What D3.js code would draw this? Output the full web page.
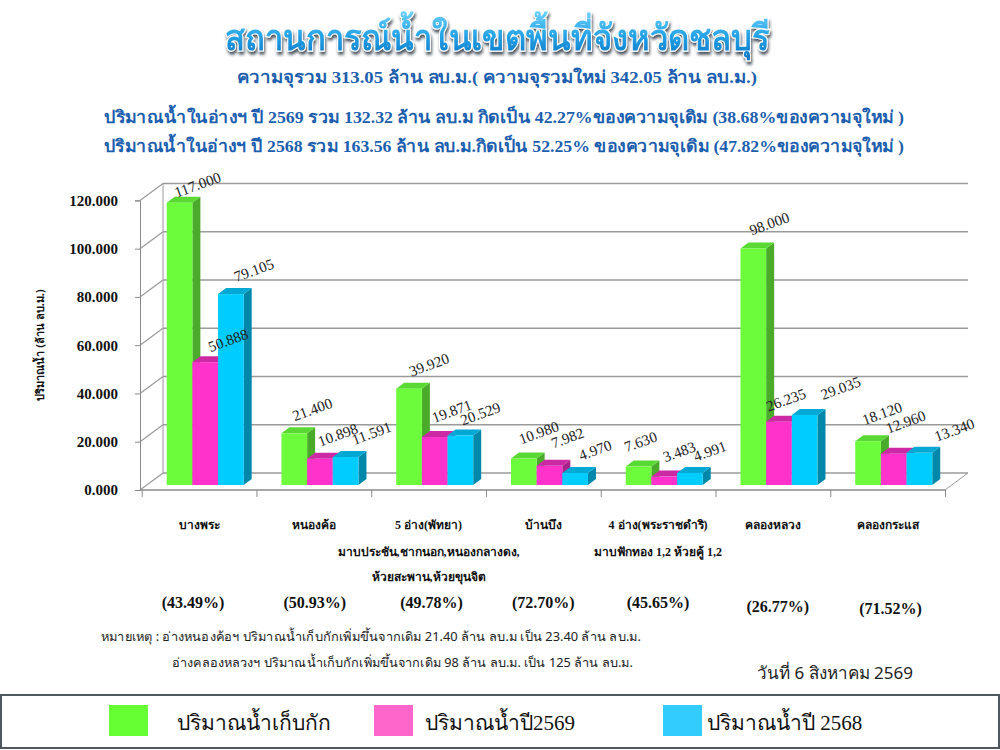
<!DOCTYPE html>
<html>
<head>
<meta charset="utf-8">
<script src="https://cdn.jsdelivr.net/npm/d3@7"></script>
<style>
  body { margin: 0; background: #fff; }
  svg { display: block; }
  .thai-serif { font-family: 'Liberation Serif', 'Noto Sans', serif; }
  .thai-sans { font-family: 'Noto Sans', 'DejaVu Sans', sans-serif; }
</style>
</head>
<body>
<div id="chart"></div>
<script>
// data
let categories = ['บางพระ', 'หนองค้อ', '5 อ่าง(พัทยา)', 'บ้านบึง', '4 อ่าง(พระราชดำริ)', 'คลองหลวง', 'คลองกระแส']
let seriesNames = ['ปริมาณน้ำเก็บกัก', 'ปริมาณน้ำปี2569', 'ปริมาณน้ำปี 2568']
let capacity = [117.0, 21.4, 39.92, 10.98, 7.63, 98.0, 18.12]
let water2569 = [50.888, 10.898, 19.871, 7.982, 3.483, 26.235, 12.96]
let water2568 = [79.105, 11.591, 20.529, 4.97, 4.991, 29.035, 13.34]
let percents = ['(43.49%)', '(50.93%)', '(49.78%)', '(72.70%)', '(45.65%)', '(26.77%)', '(71.52%)']
let subLabels = [[], [], ['มาบประชัน,ชากนอก,หนองกลางดง,', 'ห้วยสะพาน,ห้วยขุนจิต'], [], ['มาบฟักทอง 1,2 ห้วยคู้ 1,2'], [], []]
let yTicks = [0, 20, 40, 60, 80, 100, 120]

let headerLines = [
  'ความจุรวม  313.05 ล้าน ลบ.ม.( ความจุรวมใหม่ 342.05 ล้าน ลบ.ม.)',
  'ปริมาณน้ำในอ่างฯ ปี 2569 รวม 132.32 ล้าน ลบ.ม กิดเป็น 42.27%ของความจุเดิม  (38.68%ของความจุใหม่ )',
  'ปริมาณน้ำในอ่างฯ ปี  2568 รวม 163.56 ล้าน ลบ.ม.กิดเป็น 52.25% ของความจุเดิม (47.82%ของความจุใหม่ )'
]
let notes = [
  'หมายเหตุ :  อ่างหนองค้อฯ ปริมาณน้ำเก็บกักเพิ่มขึ้นจากเดิม 21.40 ล้าน ลบ.ม เป็น 23.40 ล้าน ลบ.ม.',
  'อ่างคลองหลวงฯ ปริมาณน้ำเก็บกักเพิ่มขึ้นจากเดิม 98 ล้าน ลบ.ม. เป็น 125 ล้าน ลบ.ม.'
]

let colors = [
  { front: '#6cfc3c', top: '#5ad834', side: '#4aaa2a', legend: '#66ff33' },
  { front: '#ff33cc', top: '#cc2aa4', side: '#a8228a', legend: '#ff66cc' },
  { front: '#00ccff', top: '#04a8d4', side: '#0088aa', legend: '#33ccff' }
]

// small nudges for value labels, per category x series (layout only)
let labelNudge = [
  [[0, 6], [5, 2], [5, 0]],
  [[0, 0], [0, 0], [8, 0]],
  [[2, 0], [-1, -2], [2, 2]],
  [[-3, -2], [0, -4], [2, 1]],
  [[-16, -1], [-3, -1], [2, 2]],
  [[-2, -1], [-11, 2], [18, -3]],
  [[-4, -4], [-6, -8], [17, 1]]
]

let width = 1000
let height = 750

let svg = d3
  .select('#chart')
  .append('svg')
  .attr('width', width)
  .attr('height', height)

let defs = svg.append('defs')
let grad = defs.append('linearGradient')
  .attr('id', 'titleGrad')
  .attr('x1', 0).attr('y1', 0).attr('x2', 0).attr('y2', 1)
grad.append('stop').attr('offset', '0%').attr('stop-color', '#6fd2fb')
grad.append('stop').attr('offset', '50%').attr('stop-color', '#24a2e6')
grad.append('stop').attr('offset', '100%').attr('stop-color', '#0c73c2')
let shadow = defs.append('filter').attr('id', 'titleShadow')
  .attr('x', '-5%').attr('y', '-20%').attr('width', '110%').attr('height', '160%')
shadow.append('feDropShadow')
  .attr('dx', 1).attr('dy', 3).attr('stdDeviation', 1.6)
  .attr('flood-color', '#0a1a2a')
  .attr('flood-opacity', 0.75)

/* Title and header lines */
svg.append('text')
  .attr('x', 497)
  .attr('y', 50)
  .attr('text-anchor', 'middle')
  .attr('class', 'thai-sans')
  .attr('font-size', 36)
  .attr('font-weight', 'bold')
  .attr('textLength', 545)
  .attr('lengthAdjust', 'spacingAndGlyphs')
  .attr('fill', 'url(#titleGrad)')
  .attr('stroke', '#ffffff')
  .attr('stroke-width', 2.2)
  .attr('paint-order', 'stroke')
  .attr('filter', 'url(#titleShadow)')
  .text('สถานการณ์น้ำในเขตพื้นที่จังหวัดชลบุรี')

let headerPos = [
  { x: 497, y: 83, len: 520 },
  { x: 504, y: 123, len: 800 },
  { x: 504, y: 152, len: 800 }
]
svg.selectAll('.header')
  .data(headerLines)
  .enter()
  .append('text')
  .attr('class', 'header thai-serif')
  .attr('x', (d, i) => headerPos[i].x)
  .attr('y', (d, i) => headerPos[i].y)
  .attr('text-anchor', 'middle')
  .attr('font-size', 17)
  .attr('font-weight', 'bold')
  .attr('fill', '#1d5fae')
  .attr('textLength', (d, i) => headerPos[i].len)
  .attr('lengthAdjust', 'spacingAndGlyphs')
  .text(d => d)

/* Scales */
let depth = { x: 23, y: -17 }
let barDepth = { x: 8, y: -6 }

let xScale = d3
  .scaleBand()
  .domain(categories)
  .range([141.7, 945])

let seriesScale = d3
  .scaleBand()
  .domain([0, 1, 2])
  .range([0, 77])

let yFront = d3.scaleLinear().domain([0, 120]).range([490, 200.4])
let yBack = d3.scaleLinear().domain([0, 120]).range([473, 183.4])
let yBar = d3.scaleLinear().domain([0, 120]).range([485, 195.4])

let x0 = xScale.range()[0] - 1.7
let x1 = xScale.range()[1]

/* Walls and grid */
let grid = svg.append('g').attr('class', 'grid')
grid.selectAll('.hline')
  .data(yTicks)
  .enter()
  .append('line')
  .attr('x1', x0 + depth.x)
  .attr('x2', x1 + depth.x)
  .attr('y1', d => yBack(d))
  .attr('y2', d => yBack(d))
  .attr('stroke', '#9a9a9a')
  .attr('stroke-width', 1.5)
grid.selectAll('.dline')
  .data(yTicks)
  .enter()
  .append('line')
  .attr('x1', x0)
  .attr('x2', x0 + depth.x)
  .attr('y1', d => yFront(d))
  .attr('y2', d => yBack(d))
  .attr('stroke', '#9a9a9a')
  .attr('stroke-width', 1.2)
grid.append('line')
  .attr('x1', x0 + depth.x).attr('x2', x0 + depth.x)
  .attr('y1', yBack(0)).attr('y2', yBack(120))
  .attr('stroke', '#9a9a9a')
grid.append('line')
  .attr('x1', x1).attr('x2', x1 + depth.x)
  .attr('y1', yFront(0)).attr('y2', yBack(0))
  .attr('stroke', '#9a9a9a')

/* Axes */
let yAxis = d3.axisLeft(yFront)
  .tickValues(yTicks)
  .tickFormat(d3.format('.3f'))
  .tickSize(5)
  .tickPadding(17)
svg.append('g')
  .attr('class', 'axis y-axis')
  .attr('transform', `translate(${x0},0)`)
  .call(yAxis)
  .call(g => g.select('.domain').attr('stroke', '#8a8a8a'))
  .call(g => g.selectAll('.tick line').attr('stroke', '#8a8a8a'))
  .call(g => g.selectAll('.tick text')
    .attr('font-family', 'Liberation Serif')
    .attr('font-weight', 'bold')
    .attr('font-size', 15)
    .attr('fill', '#111'))

let boundaries = categories.map(c => xScale(c)).concat([xScale.range()[1]])
let xAxis = d3.axisBottom(d3.scaleLinear().domain([0, 1000]).range([0, 1000]))
  .tickValues(boundaries)
  .tickFormat('')
  .tickSize(7)
  .tickSizeOuter(0)
svg.append('g')
  .attr('class', 'axis x-axis')
  .attr('transform', `translate(0,${yFront(0)})`)
  .call(xAxis)
  .call(g => g.select('.domain').remove())
  .call(g => g.selectAll('.tick line').attr('stroke', '#8a8a8a'))
svg.append('line')
  .attr('x1', x0).attr('x2', x1)
  .attr('y1', yFront(0)).attr('y2', yFront(0))
  .attr('stroke', '#8a8a8a')
  .attr('stroke-width', 1.5)

/* Bars */
let seriesValues = [capacity, water2569, water2568]
let barData = []
categories.forEach((c, ci) => {
  seriesValues.forEach((vals, si) => {
    barData.push({ cat: c, ci: ci, s: si, value: vals[ci] })
  })
})

let bw = seriesScale.bandwidth()
let bars = svg.append('g').attr('class', 'bars')
bars.selectAll('g')
  .data(barData)
  .enter()
  .append('g')
  .attr('transform', d => `translate(${xScale(d.cat) + 25 + seriesScale(d.s)},0)`)
  .each(function(d) {
    let g = d3.select(this)
    let top = yBar(d.value)
    let bottom = yBar(0)
    let c = colors[d.s]
    g.append('polygon')
      .attr('points', [[bw, top], [bw + barDepth.x, top + barDepth.y], [bw + barDepth.x, bottom + barDepth.y], [bw, bottom]].join(' '))
      .attr('fill', c.side)
    g.append('polygon')
      .attr('points', [[0, top], [barDepth.x, top + barDepth.y], [bw + barDepth.x, top + barDepth.y], [bw, top]].join(' '))
      .attr('fill', c.top)
    g.append('rect')
      .attr('x', 0)
      .attr('y', top)
      .attr('width', bw)
      .attr('height', bottom - top)
      .attr('fill', c.front)
  })

/* Value labels */
svg.append('g')
  .attr('class', 'value-labels')
  .selectAll('text')
  .data(barData)
  .enter()
  .append('text')
  .attr('transform', d => {
    let n = labelNudge[d.ci][d.s]
    let cx = xScale(d.cat) + 25 + seriesScale(d.s) + bw / 2 + 18 + n[0]
    let cy = yBar(d.value) - 24 + n[1]
    return `translate(${cx},${cy}) rotate(-20)`
  })
  .attr('text-anchor', 'middle')
  .attr('dy', '0.35em')
  .attr('font-family', 'Liberation Serif')
  .attr('font-size', 15)
  .attr('fill', '#222')
  .text(d => d3.format('.3f')(d.value))

/* Y axis title */
svg.append('text')
  .attr('transform', 'translate(44,345) rotate(-90)')
  .attr('text-anchor', 'middle')
  .attr('class', 'thai-sans')
  .attr('font-size', 11)
  .attr('font-weight', 'bold')
  .attr('fill', '#111')
  .text('ปริมาณน้ำ (ล้าน ลบ.ม.)')

/* Category labels */
let catCenter = c => xScale(c) + xScale.bandwidth() / 2
svg.append('g')
  .selectAll('text')
  .data(categories)
  .enter()
  .append('text')
  .attr('x', d => catCenter(d))
  .attr('y', 529)
  .attr('text-anchor', 'middle')
  .attr('class', 'thai-serif')
  .attr('font-size', 12)
  .attr('font-weight', 'bold')
  .attr('fill', '#111')
  .text(d => d)

categories.forEach((c, ci) => {
  svg.selectAll(null)
    .data(subLabels[ci])
    .enter()
    .append('text')
    .attr('x', catCenter(c))
    .attr('y', (d, i) => 556 + i * 25)
    .attr('text-anchor', 'middle')
    .attr('class', 'thai-serif')
    .attr('font-size', 12)
    .attr('font-weight', 'bold')
    .attr('fill', '#111')
    .text(d => d)
})

let pctShift = [0, 0, 0, 0, 0, 4, 6]
svg.append('g')
  .selectAll('text')
  .data(percents)
  .enter()
  .append('text')
  .attr('x', (d, i) => catCenter(categories[i]) + [-6, 1, 3, 0, 0, 5, 3][i])
  .attr('y', (d, i) => 608 + pctShift[i])
  .attr('text-anchor', 'middle')
  .attr('font-family', 'Liberation Serif')
  .attr('font-size', 16)
  .attr('font-weight', 'bold')
  .attr('fill', '#111')
  .text(d => d)

/* Notes and date */
let noteLen = [540, 461]
svg.selectAll('.note')
  .data(notes)
  .enter()
  .append('text')
  .attr('class', 'note thai-sans')
  .attr('x', (d, i) => (i === 0 ? 101 : 172))
  .attr('y', (d, i) => 641 + i * 26)
  .attr('font-size', 12.5)
  .attr('fill', '#222')
  .attr('textLength', (d, i) => noteLen[i])
  .attr('lengthAdjust', 'spacingAndGlyphs')
  .text(d => d)

svg.append('text')
  .attr('x', 757)
  .attr('y', 679)
  .attr('class', 'thai-sans')
  .attr('font-size', 17)
  .attr('fill', '#222')
  .text('วันที่ 6 สิงหาคม 2569')

/* Legend */
svg.append('rect')
  .attr('x', 1)
  .attr('y', 695)
  .attr('width', 998)
  .attr('height', 53)
  .attr('fill', '#fff')
  .attr('stroke', '#4e585e')
  .attr('stroke-width', 2)

let legendX = [109, 374, 663]
let legendTextX = [68, 51, 44]
let legend = svg.append('g')
  .selectAll('g')
  .data(seriesNames)
  .enter()
  .append('g')
  .attr('transform', (d, i) => `translate(${legendX[i]},705)`)
legend.append('rect')
  .attr('width', 39)
  .attr('height', 31)
  .attr('fill', (d, i) => colors[i].legend)
legend.append('text')
  .attr('x', (d, i) => legendTextX[i])
  .attr('y', 25)
  .attr('class', 'thai-serif')
  .attr('font-size', 21)
  .attr('fill', '#111')
  .text(d => d)
</script>
</body>
</html>
